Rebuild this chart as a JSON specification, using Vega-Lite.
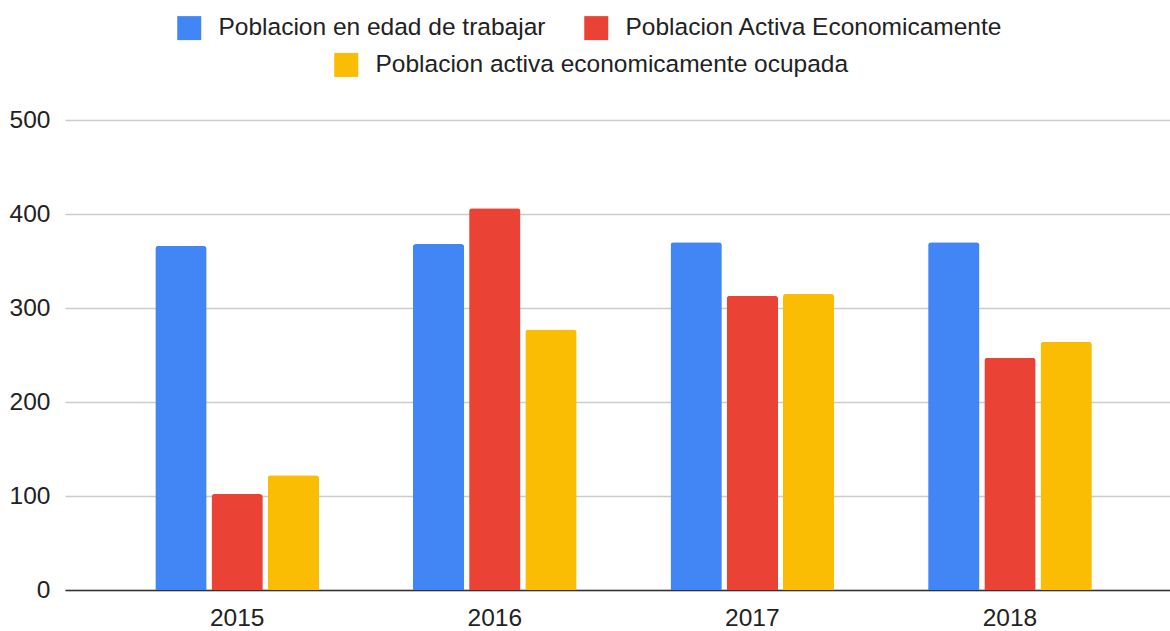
{
  "$schema": "https://vega.github.io/schema/vega-lite/v6.json",
  "width": 1105,
  "height": 470,
  "autosize": {"type": "none"},
  "padding": {"left": 65, "top": 120, "right": 0, "bottom": 41},
  "background": "white",
  "data": {
    "values": [
      {"anio": "2015", "serie": "Poblacion en edad de trabajar", "valor": 366},
      {"anio": "2015", "serie": "Poblacion Activa Economicamente", "valor": 102},
      {"anio": "2015", "serie": "Poblacion activa economicamente ocupada", "valor": 122},
      {"anio": "2016", "serie": "Poblacion en edad de trabajar", "valor": 368},
      {"anio": "2016", "serie": "Poblacion Activa Economicamente", "valor": 406},
      {"anio": "2016", "serie": "Poblacion activa economicamente ocupada", "valor": 277},
      {"anio": "2017", "serie": "Poblacion en edad de trabajar", "valor": 370},
      {"anio": "2017", "serie": "Poblacion Activa Economicamente", "valor": 313},
      {"anio": "2017", "serie": "Poblacion activa economicamente ocupada", "valor": 315},
      {"anio": "2018", "serie": "Poblacion en edad de trabajar", "valor": 370},
      {"anio": "2018", "serie": "Poblacion Activa Economicamente", "valor": 247},
      {"anio": "2018", "serie": "Poblacion activa economicamente ocupada", "valor": 264}
    ]
  },
  "encoding": {
    "x": {
      "field": "anio",
      "type": "nominal",
      "title": null,
      "scale": {"paddingInner": 0.3645, "paddingOuter": 0.327, "align": 0.536},
      "axis": {
        "labelAngle": 0,
        "ticks": false,
        "grid": false,
        "domain": true,
        "domainColor": "#333333",
        "domainWidth": 1.7,
        "labelPadding": 16,
        "labelFontSize": 24.5,
        "labelFont": "Liberation Sans",
        "labelColor": "#222222"
      }
    },
    "xOffset": {
      "field": "serie",
      "type": "nominal",
      "scale": {
        "domain": ["Poblacion en edad de trabajar", "Poblacion Activa Economicamente", "Poblacion activa economicamente ocupada"],
        "paddingInner": 0.087,
        "paddingOuter": 0
      }
    },
    "y": {
      "field": "valor",
      "type": "quantitative",
      "title": null,
      "scale": {"domain": [0, 500], "nice": false},
      "axis": {
        "values": [0, 100, 200, 300, 400, 500],
        "domain": false,
        "ticks": false,
        "grid": true,
        "gridColor": "#cccccc",
        "gridWidth": 1.4,
        "labelPadding": 15,
        "labelFontSize": 24.5,
        "labelFont": "Liberation Sans",
        "labelColor": "#222222"
      }
    }
  },
  "layer": [
    {
      "transform": [{"filter": {"field": "serie", "oneOf": ["Poblacion en edad de trabajar", "Poblacion Activa Economicamente"]}}],
      "mark": {"type": "bar", "cornerRadiusTopLeft": 3, "cornerRadiusTopRight": 3},
      "encoding": {
        "color": {
          "field": "serie",
          "type": "nominal",
          "title": null,
          "scale": {
            "domain": ["Poblacion en edad de trabajar", "Poblacion Activa Economicamente"],
            "range": ["#4285F4", "#EA4335"]
          },
          "legend": {"orient": "none", "direction": "horizontal", "legendX": 112, "legendY": -104.5}
        }
      }
    },
    {
      "transform": [{"filter": {"field": "serie", "equal": "Poblacion activa economicamente ocupada"}}],
      "mark": {"type": "bar", "cornerRadiusTopLeft": 3, "cornerRadiusTopRight": 3},
      "encoding": {
        "fill": {
          "field": "serie",
          "type": "nominal",
          "title": null,
          "scale": {
            "domain": ["Poblacion activa economicamente ocupada"],
            "range": ["#FBBC04"]
          },
          "legend": {"orient": "none", "direction": "horizontal", "legendX": 269, "legendY": -67.3}
        }
      }
    }
  ],
  "resolve": {"scale": {"color": "independent", "fill": "independent"}},
  "config": {
    "view": {"stroke": null},
    "legend": {
      "symbolType": "square",
      "symbolSize": 576,
      "symbolStrokeWidth": 0,
      "labelFontSize": 24.5,
      "labelFont": "Liberation Sans",
      "labelColor": "#222222",
      "labelLimit": 800,
      "labelOffset": 17,
      "columnPadding": 38,
      "padding": 0
    }
  }
}
